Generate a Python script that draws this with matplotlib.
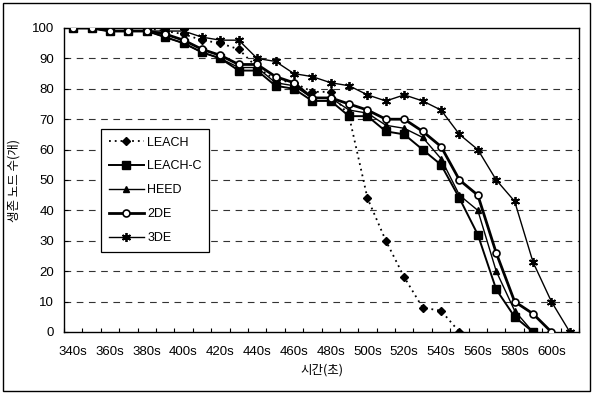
import matplotlib
matplotlib.use("Agg")
import matplotlib.pyplot as plt
from matplotlib.patches import Rectangle

# ---- data ----
times = [340, 350, 360, 370, 380, 390, 400, 410, 420, 430, 440, 450, 460, 470,
         480, 490, 500, 510, 520, 530, 540, 550, 560, 570, 580, 590, 600, 610]
tick_labels = ["340s", "360s", "380s", "400s", "420s", "440s", "460s", "480s",
               "500s", "520s", "540s", "560s", "580s", "600s"]
leach = [100, 100, 100, 100, 100, 99, 98, 96, 95, 93, 87, 83, 82, 79, 79, 71,
         44, 30, 18, 8, 7, 0]
leach_c = [100, 100, 99, 99, 99, 97, 95, 92, 90, 86, 86, 81, 80, 76, 76, 71,
           71, 66, 65, 60, 55, 44, 32, 14, 5, 0]
heed = [100, 100, 99, 99, 99, 97, 95, 92, 90, 87, 87, 82, 81, 77, 77, 73,
        72, 68, 67, 64, 57, 45, 40, 20, 7, 0]
de2 = [100, 100, 99, 99, 99, 98, 96, 93, 91, 88, 88, 84, 82, 77, 77, 75,
       73, 70, 70, 66, 61, 50, 45, 26, 10, 6, 0]
de3 = [100, 100, 99, 99, 99, 99, 99, 97, 96, 96, 90, 89, 85, 84, 82, 81,
       78, 76, 78, 76, 73, 65, 60, 50, 43, 23, 10, 0]
series_names = ["LEACH", "LEACH-C", "HEED", "2DE", "3DE"]
y_ticks = [0, 10, 20, 30, 40, 50, 60, 70, 80, 90, 100]

W, H = 593, 394
fig = plt.figure(figsize=(W / 100, H / 100), dpi=100)
ax = fig.add_axes([64 / W, 1 - 332 / H, (579 - 64) / W, (332 - 28) / H])

idx = list(range(len(times)))

def xs(vals):
    return idx[:len(vals)]

ax.plot(xs(leach), leach, color="black", lw=1.3, ls=(0, (1, 2.2)),
        marker="D", ms=4.5, mfc="black", mec="black", label=series_names[0], zorder=5)
ax.plot(xs(leach_c), leach_c, color="black", lw=1.4, marker="s", ms=5.5,
        mfc="black", mec="black", label=series_names[1], zorder=4)
ax.plot(xs(heed), heed, color="black", lw=1.0, marker="^", ms=5,
        mfc="black", mec="black", label=series_names[2], zorder=4)
ax.plot(xs(de2), de2, color="black", lw=2.0, marker="o", ms=5,
        mfc="white", mec="black", mew=1.2, label=series_names[3], zorder=6)
ax.plot(xs(de3), de3, color="black", lw=1.0, marker=(6, 2, 0), ms=6.5,
        mfc="black", mec="black", mew=1.3, label=series_names[4], zorder=4)

ax.set_xlim(-0.5, len(times) - 0.5)
ax.set_ylim(0, 100)

# category boundary ticks (no labels), labels at category centres
ax.set_xticks([i - 0.5 for i in range(len(times) + 1)])
ax.set_xticklabels([])
ax.set_xticks(list(range(0, len(times), 2)), minor=True)
ax.set_xticklabels(tick_labels, minor=True, fontsize=9.5, family="Liberation Sans")
ax.tick_params(axis="x", which="major", direction="in", length=3, width=0.8)
ax.tick_params(axis="x", which="minor", length=0, pad=10)

ax.set_yticks(y_ticks)
ax.set_yticklabels([str(v) for v in y_ticks], fontsize=9.5, family="Liberation Sans")
ax.tick_params(axis="y", direction="in", length=3, width=0.8, pad=7)

for v in y_ticks[1:-1]:
    ax.axhline(v, color="#333333", lw=0.8, ls=(0, (6, 5)), zorder=1)

for s in ax.spines.values():
    s.set_linewidth(1.0)
    s.set_color("black")

ax.set_xlabel("시간(초)", family=["Noto Sans CJK KR", "DejaVu Sans"], fontsize=9, labelpad=4)
ax.set_ylabel("생존 노드 수(개)", family=["Noto Sans CJK KR", "DejaVu Sans"], fontsize=9, labelpad=8)

leg = ax.legend(loc="upper left", bbox_to_anchor=((101 - 64) / (579 - 64), 1 - (129 - 28) / (332 - 28)),
                borderaxespad=0, frameon=True, fancybox=False, edgecolor="black", framealpha=1,
                prop={"family": "Liberation Sans", "size": 9}, handlelength=2.8,
                labelspacing=0.95, borderpad=0.6, handletextpad=0.3)
leg.get_frame().set_linewidth(0.9)

# outer border around figure
fig.patches.append(Rectangle((3 / W, 3 / H), 1 - 6 / W, 1 - 6 / H, transform=fig.transFigure,
                             fill=False, edgecolor="black", lw=1.0))

fig.savefig("out.png", dpi=100)
